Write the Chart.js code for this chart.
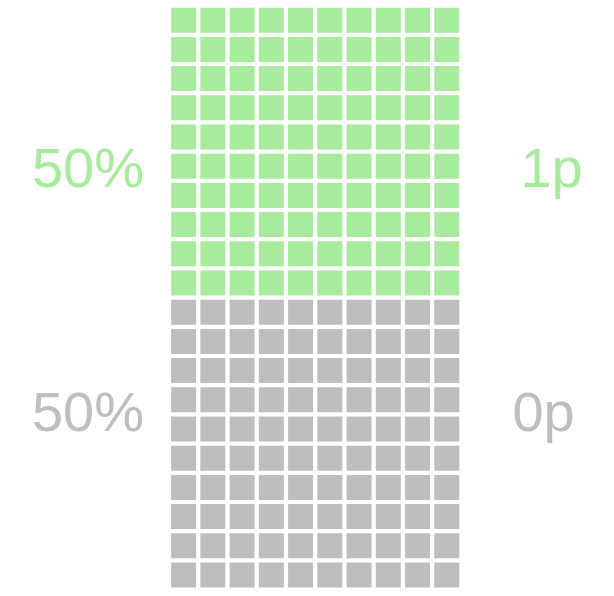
<!DOCTYPE html>
<html><head><meta charset="utf-8">
<script src="https://cdn.jsdelivr.net/npm/chart.js@4.4.1/dist/chart.umd.min.js"></script>
<style>html,body{margin:0;padding:0;background:#fff}#wrap{width:614px;height:596px}</style>
</head><body><div id="wrap"><canvas id="c" width="614" height="596"></canvas></div>
<script>
const categories = ['1p', '0p'];
const percents = [50, 50];
const percentLabels = ['50%', '50%'];
const colors = ['#a8eb9d', '#bebebe'];
const nCols = 10;
const nRows = 20;

// build waffle cells from the percentages (rows filled top-down)
const datasets = [];
let row = 0;
categories.forEach((cat, k) => {
  const rowsForCat = Math.round(percents[k] / 100 * nRows);
  const pts = [];
  for (let r = 0; r < rowsForCat; r++) {
    for (let c = 0; c < nCols; c++) pts.push({x: c, y: row + r});
  }
  row += rowsForCat;
  datasets.push({
    label: cat, data: pts, backgroundColor: colors[k], borderWidth: 0,
    pointStyle: 'rect', pointRadius: 25 / Math.SQRT2, pointHoverRadius: 25 / Math.SQRT2
  });
});

const labelPlugin = {
  id: 'waffleLabels',
  afterDatasetsDraw(chart) {
    const ctx = chart.ctx;
    const ys = chart.scales.y, xs = chart.scales.x;
    ctx.save();
    ctx.font = '56px "Liberation Sans", Arial, sans-serif';
    ctx.textBaseline = 'alphabetic';
    const baselines = [ys.getPixelForValue(5.72), ys.getPixelForValue(14.07)];
    categories.forEach((cat, k) => {
      ctx.fillStyle = colors[k];
      ctx.textAlign = 'center';
      ctx.fillText(percentLabels[k], xs.left - 81, baselines[k]);
      ctx.textAlign = 'left';
      ctx.fillText(cat, xs.right + (k === 0 ? 59 : 51), baselines[k]);
    });
    ctx.restore();
  }
};

new Chart(document.getElementById('c'), {
  type: 'scatter',
  data: { datasets },
  options: {
    responsive: false, animation: false, events: [],
    layout: { autoPadding: false, padding: { left: 169, right: 152.6, top: 5.6, bottom: 6.4 } },
    plugins: { legend: { display: false }, tooltip: { enabled: false } },
    scales: {
      x: { type: 'linear', min: -0.5, max: nCols - 0.5, display: false },
      y: { type: 'linear', min: -0.5, max: nRows - 0.5, reverse: true, display: false }
    }
  },
  plugins: [labelPlugin]
});
</script></body></html>
